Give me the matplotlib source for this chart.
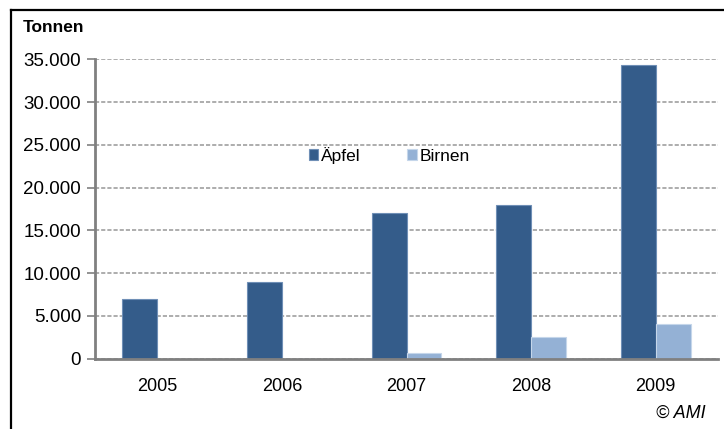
import matplotlib.pyplot as plt
from matplotlib.lines import Line2D
import numpy as np

plt.rcParams['font.family'] = ['Liberation Sans', 'DejaVu Sans']

# Daten (Tonnen)
JAHRE = ["2005", "2006", "2007", "2008", "2009"]
AEPFEL = [7000, 8900, 17000, 18000, 34400]
BIRNEN = [0, 0, 600, 2550, 4000]
Y_TICKS = [0, 5000, 10000, 15000, 20000, 25000, 30000, 35000]
Y_LABELS = ["0", "5.000", "10.000", "15.000", "20.000", "25.000", "30.000", "35.000"]

FARBE_AEPFEL = '#345c8a'
FARBE_BIRNEN = '#94b1d5'

fig = plt.figure(figsize=(7.24, 4.29), dpi=100)
ax = fig.add_axes([95 / 724, 1 - 358.5 / 429, 623 / 724, 299 / 429])

x = np.arange(len(JAHRE))
w = 0.28
ax.bar(x - w / 2, AEPFEL, w, color=FARBE_AEPFEL, edgecolor='#6f8fb6', linewidth=0.8,
       label='Äpfel', zorder=3)
ax.bar(x + w / 2, BIRNEN, w, color=FARBE_BIRNEN, edgecolor='#c5d6ea', linewidth=0.8,
       label='Birnen', zorder=3)

ax.set_xlim(-0.5, len(JAHRE) - 0.5)
ax.set_ylim(0, 35000)
ax.set_xticks(x)
ax.set_xticklabels(JAHRE, fontsize=13)
ax.set_yticks(Y_TICKS)
ax.set_yticklabels(Y_LABELS, fontsize=13.5)
ax.tick_params(axis='x', length=0, pad=14)
ax.tick_params(axis='y', length=6, width=1.2, color='#808080', pad=4)

ax.yaxis.grid(True, linestyle=(0, (2.5, 1.2)), color='#a0a0a0', linewidth=1.2, zorder=0)
ax.set_axisbelow(True)
for s in ['top', 'right']:
    ax.spines[s].set_visible(False)
for s in ['left', 'bottom']:
    ax.spines[s].set_color('#808080')
    ax.spines[s].set_linewidth(2)
ax.spines['bottom'].set_zorder(4)

ax.legend(loc='center', bbox_to_anchor=(0.472, 0.68), ncol=2, frameon=False,
          fontsize=12.5, handlelength=0.55, handleheight=0.55, handletextpad=0.15,
          columnspacing=2.7)

fig.text(23 / 724, 1 - 28 / 429, 'Tonnen', fontsize=12.5, fontweight='bold',
         va='center', ha='left')
fig.text(706 / 724, 1 - 413 / 429, '© AMI', fontsize=13, style='italic',
         va='center', ha='right')

# Rahmen links und oben
fig.add_artist(Line2D([10.5 / 724, 10.5 / 724], [0, 1 - 9.5 / 429], color='black', linewidth=1.6))
fig.add_artist(Line2D([10.5 / 724, 1], [1 - 9.5 / 429, 1 - 9.5 / 429], color='black', linewidth=1.6))

fig.savefig('out.png', dpi=100)
